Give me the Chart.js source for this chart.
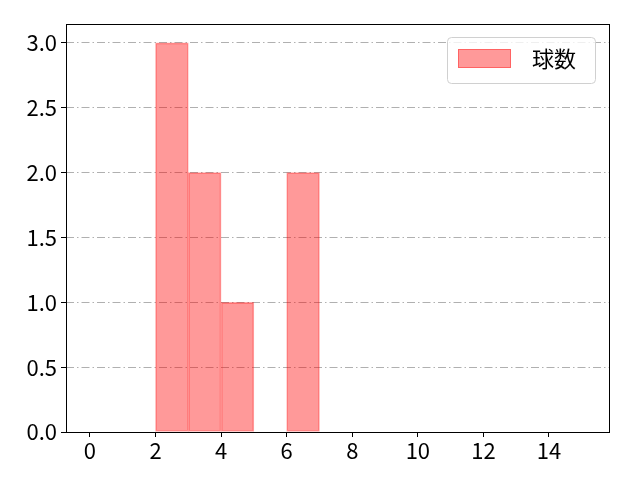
<!DOCTYPE html>
<html>
<head>
<meta charset="utf-8">
<script src="https://cdn.jsdelivr.net/npm/chart.js@4"></script>
<style>
  html, body { margin: 0; padding: 0; background: #fff; }
  #wrap { width: 640px; height: 480px; }
</style>
</head>
<body>
<div id="wrap"><canvas id="myChart" width="640" height="480"></canvas></div>
<script>
// histogram bins (left edges) and counts
const binStarts = [2, 3, 4, 5, 6];
const binCounts = [3, 2, 1, null, 2];
const seriesLabel = "球数";
const xTicks = [0, 2, 4, 6, 8, 10, 12, 14];
const yTicks = [0, 0.5, 1.0, 1.5, 2.0, 2.5, 3.0];

const fontFamily = "'Noto Sans CJK JP', 'DejaVu Sans', sans-serif";

// frame around the plot + legend inside top right
const framePlugin = {
  id: "frame",
  afterDraw(chart) {
    const ctx = chart.ctx;
    const a = chart.chartArea;
    ctx.save();
    ctx.strokeStyle = "#000";
    ctx.lineWidth = 1;
    ctx.strokeRect(a.left + 0.5, a.top + 0.5, a.right - a.left, a.bottom - a.top);

    // legend
    const ds = chart.data.datasets[0];
    const bx = 447, by = 37, bw = 148, bh = 46;
    ctx.fillStyle = "rgba(255,255,255,0.8)";
    ctx.strokeStyle = "#d0d0d0";
    ctx.beginPath();
    ctx.roundRect(bx + 0.5, by + 0.5, bw, bh, 4);
    ctx.fill();
    ctx.stroke();
    ctx.fillStyle = ds.backgroundColor;
    ctx.fillRect(458, 49, 53, 19);
    ctx.strokeStyle = ds.borderColor;
    ctx.strokeRect(458.5, 49.5, 52, 18);
    ctx.fillStyle = "#000";
    ctx.font = "22px " + fontFamily;
    ctx.textBaseline = "middle";
    ctx.fillText(ds.label, 532, 59);
    ctx.restore();
  }
};

const ctx = document.getElementById("myChart").getContext("2d");
new Chart(ctx, {
  type: "bar",
  data: {
    datasets: [{
      label: seriesLabel,
      data: binStarts.map((s, i) => ({ x: s + 0.5, y: binCounts[i] })),
      backgroundColor: "rgba(255,0,0,0.4)",
      borderColor: "rgba(255,0,0,0.35)",
      borderWidth: 1,
      borderSkipped: false,
      barPercentage: 1.0,
      categoryPercentage: 1.0
    }]
  },
  options: {
    responsive: false,
    animation: false,
    layout: { padding: { top: 24, right: 31, left: 0, bottom: 0 } },
    plugins: {
      legend: { display: false },
      tooltip: { enabled: false }
    },
    scales: {
      x: {
        type: "linear",
        offset: false,
        min: -0.73,
        max: 15.83,
        afterFit: s => { s.height = 48; },
        afterBuildTicks: s => { s.ticks = xTicks.map(v => ({ value: v })); },
        ticks: {
          color: "#000",
          font: { family: fontFamily, size: 22 },
          padding: 0,
          maxRotation: 0
        },
        grid: {
          display: true,
          offset: false,
          drawOnChartArea: false,
          drawTicks: true,
          tickLength: 5,
          tickColor: "#000"
        },
        border: { display: false }
      },
      y: {
        min: 0,
        max: 3.146,
        afterFit: s => { s.width = 66; },
        afterBuildTicks: s => { s.ticks = yTicks.map(v => ({ value: v })); },
        ticks: {
          color: "#000",
          font: { family: fontFamily, size: 22 },
          padding: 4,
          callback: v => v.toFixed(1)
        },
        grid: {
          color: "#b0b0b0",
          lineWidth: 1,
          tickBorderDash: [],
          tickLength: 5,
          tickColor: "#000"
        },
        border: { display: false, dash: [8, 3, 1.5, 3] }
      }
    }
  },
  plugins: [framePlugin]
});
</script>
</body>
</html>
